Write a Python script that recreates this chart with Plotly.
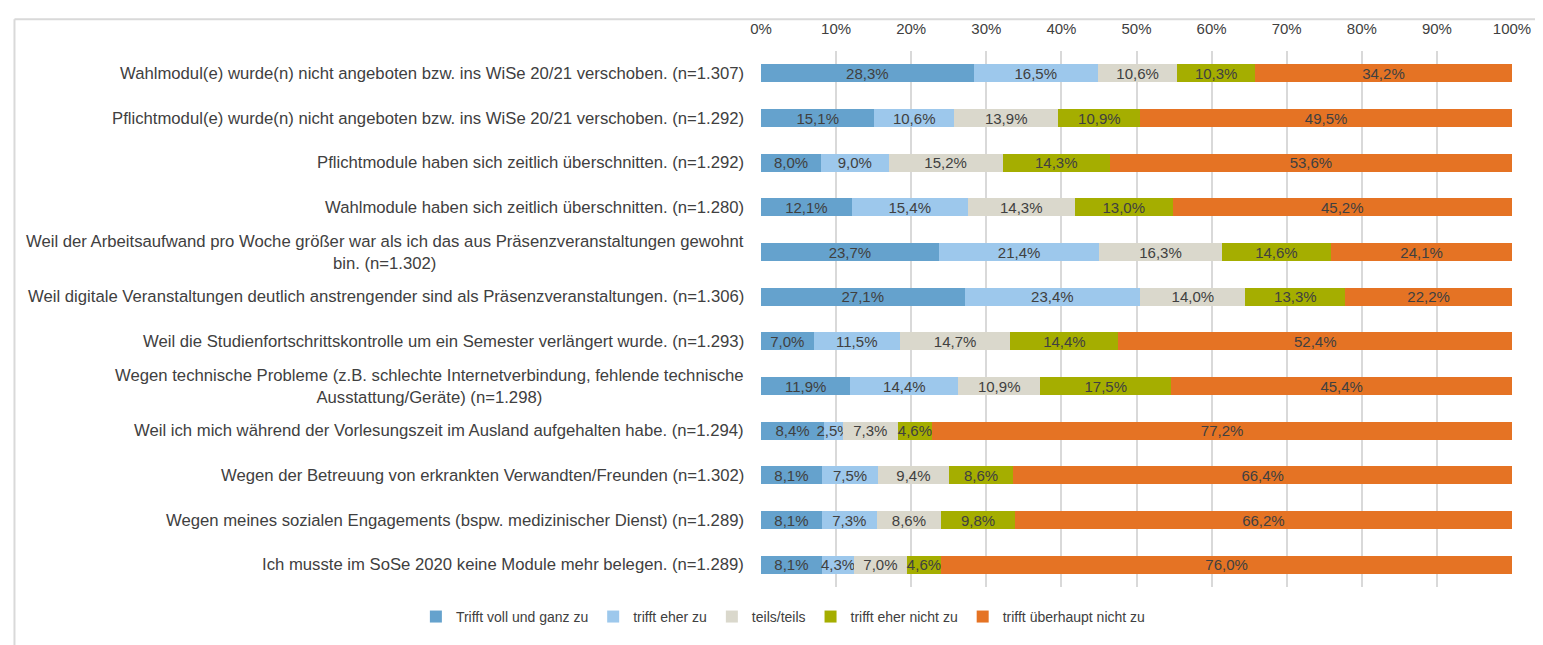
import plotly.graph_objects as go

categories = [
    "Wahlmodul(e) wurde(n) nicht angeboten bzw. ins WiSe 20/21 verschoben. (n=1.307)",
    "Pflichtmodul(e) wurde(n) nicht angeboten bzw. ins WiSe 20/21 verschoben. (n=1.292)",
    "Pflichtmodule haben sich zeitlich überschnitten. (n=1.292)",
    "Wahlmodule haben sich zeitlich überschnitten. (n=1.280)",
    "Weil der Arbeitsaufwand pro Woche größer war als ich das aus Präsenzveranstaltungen gewohnt<br>bin. (n=1.302)",
    "Weil digitale Veranstaltungen deutlich anstrengender sind als Präsenzveranstaltungen. (n=1.306)",
    "Weil die Studienfortschrittskontrolle um ein Semester verlängert wurde. (n=1.293)",
    "Wegen technische Probleme (z.B. schlechte Internetverbindung, fehlende technische<br>Ausstattung/Geräte) (n=1.298)",
    "Weil ich mich während der Vorlesungszeit im Ausland aufgehalten habe. (n=1.294)",
    "Wegen der Betreuung von erkrankten Verwandten/Freunden (n=1.302)",
    "Wegen meines sozialen Engagements (bspw. medizinischer Dienst) (n=1.289)",
    "Ich musste im SoSe 2020 keine Module mehr belegen. (n=1.289)",
]

series_names = [
    "Trifft voll und ganz zu",
    "trifft eher zu",
    "teils/teils",
    "trifft eher nicht zu",
    "trifft überhaupt nicht zu",
]

trifft_voll = [28.3, 15.1, 8.0, 12.1, 23.7, 27.1, 7.0, 11.9, 8.4, 8.1, 8.1, 8.1]
trifft_eher = [16.5, 10.6, 9.0, 15.4, 21.4, 23.4, 11.5, 14.4, 2.5, 7.5, 7.3, 4.3]
teils = [10.6, 13.9, 15.2, 14.3, 16.3, 14.0, 14.7, 10.9, 7.3, 9.4, 8.6, 7.0]
eher_nicht = [10.3, 10.9, 14.3, 13.0, 14.6, 13.3, 14.4, 17.5, 4.6, 8.6, 9.8, 4.6]
ueberhaupt_nicht = [34.2, 49.5, 53.6, 45.2, 24.1, 22.2, 52.4, 45.4, 77.2, 66.4, 66.2, 76.0]

tick_values = [0, 10, 20, 30, 40, 50, 60, 70, 80, 90, 100]
tick_labels = [f"{v}%" for v in tick_values]

colors = ["#65A2CD", "#9DC8EC", "#DAD8CC", "#A5AE00", "#E57324"]
series_values = [trifft_voll, trifft_eher, teils, eher_nicht, ueberhaupt_nicht]

FONT = "Liberation Sans, Arial, sans-serif"
TXT = "#404040"

fig = go.Figure()
for name, vals, col in zip(series_names, series_values, colors):
    fig.add_trace(go.Bar(
        name=name, y=categories, x=vals, orientation="h",
        marker=dict(color=col, line=dict(width=0)),
        text=[f"{v:.1f}%".replace(".", ",") for v in vals],
        textposition="inside", insidetextanchor="middle", textangle=0,
        constraintext="none",
        textfont=dict(family=FONT, size=15, color=TXT),
        hoverinfo="skip",
    ))

# page body has an 8px margin; figure coordinates = screen - 8
OFF = 8
W, H = 1543 - OFF, 645 - OFF
L, R, T, B = 761 - OFF, 1516 - OFF, 42 - OFF, 597 - OFF
pw, ph = R - L, B - T

def px(x):
    return (x - OFF - L) / pw

def py(y):
    return (B - (y - OFF)) / ph

for c in categories:
    fig.add_annotation(
        x=px(746), xref="paper", y=c, yref="y",
        text=c, showarrow=False, xanchor="right", yanchor="middle",
        align="center", font=dict(family=FONT, size=16.7, color=TXT),
    )

# outer chart border (top and left)
fig.add_shape(type="line", xref="paper", yref="paper",
              x0=px(10.5), x1=px(1560), y0=py(9), y1=py(9),
              line=dict(color="#D9D9D9", width=2))
fig.add_shape(type="line", xref="paper", yref="paper",
              x0=px(10.5), x1=px(10.5), y0=py(9), y1=py(660),
              line=dict(color="#D9D9D9", width=2))

fig.update_layout(
    width=W, height=H, autosize=False,
    margin=dict(l=L, r=W - R, t=T, b=H - B, pad=0),
    barmode="stack", barnorm="percent", bargap=0.6,
    separators=",.",
    paper_bgcolor="white", plot_bgcolor="white",
    font=dict(family=FONT, size=15, color=TXT),
    uniformtext=dict(minsize=15, mode="show"),
    xaxis=dict(
        side="top", range=[0, 100], tickvals=tick_values, ticktext=tick_labels,
        showgrid=True, gridcolor="#D9D9D9", gridwidth=2, zeroline=False,
        showline=False, ticks="", ticklabelstandoff=13,
        tickfont=dict(family=FONT, size=15, color=TXT), fixedrange=True,
    ),
    yaxis=dict(
        categoryorder="array", categoryarray=categories, autorange="reversed",
        showticklabels=False, showgrid=False, zeroline=False, showline=False,
        ticks="", fixedrange=True,
    ),
    legend=dict(
        orientation="h", x=px(783), xanchor="center", y=py(628), yanchor="middle",
        font=dict(family=FONT, size=14, color=TXT), itemwidth=30,
        traceorder="normal", bgcolor="rgba(0,0,0,0)",
    ),
    showlegend=True,
)

fig.write_html("out.html")
